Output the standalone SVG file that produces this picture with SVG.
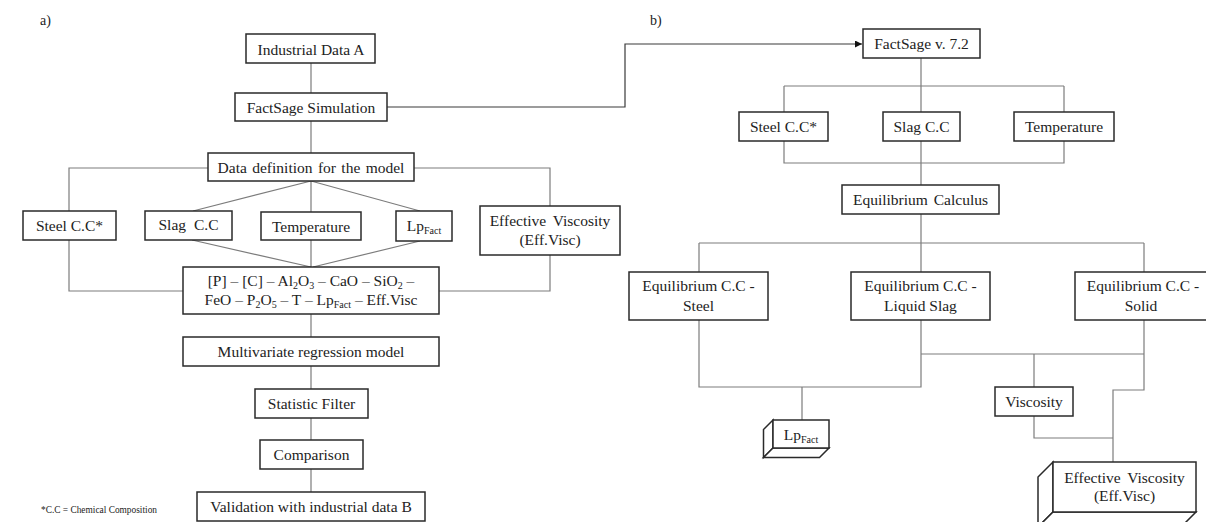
<svg xmlns="http://www.w3.org/2000/svg" width="1206" height="522" viewBox="0 0 1206 522">
<style>
.box{fill:#fff;stroke:#2a2a2a;stroke-width:1.5}
.ln{fill:none;stroke:#7c7c7c;stroke-width:1.2}
.arr{fill:none;stroke:#3a3a3a;stroke-width:1.2}
.t{font-family:"Liberation Serif","Times New Roman",serif;font-size:15.5px;fill:#222;text-anchor:middle}
.lbl{font-family:"Liberation Serif","Times New Roman",serif;font-size:14px;fill:#222}
.sub{font-size:10px}
</style>
<defs>
<marker id="ah" viewBox="0 0 10 10" refX="10" refY="5" markerWidth="8" markerHeight="7" markerUnits="userSpaceOnUse" orient="auto">
<path d="M0,0 L10,5 L0,10 Z" fill="#111"/>
</marker>
</defs>
<rect width="1206" height="522" fill="#fff"/>
<text class="lbl" x="40" y="25">a)</text>
<text class="lbl" x="650" y="25">b)</text>
<text x="41" y="513" font-family="Liberation Serif, serif" font-size="10" fill="#222" textLength="116" lengthAdjust="spacingAndGlyphs">*C.C = Chemical  Composition</text>

<g id="connectors">
<path class="ln" d="M311,63V93M311,121V153M208,168H69V211M69,240V291H183M414,168H550V206M550,255V291H439M311,181L193,211M311,181V212M311,181L420,211M192,240L311,267M311,240V267M420,241L313,267M311,314V337M311,366V389M311,418V440M311,469V492"/>
<path class="arr" d="M387,107H625V44H862" marker-end="url(#ah)"/>
<path class="ln" d="M921,58V112M784,86H1064M784,86V112M1064,86V112M784,141V163H1064V141M921,141V185M921,214V272M699,243H1144M699,243V272M1144,243V272M699,320V387H921V320M921,354H1144M1144,320V390H1113V462M802,387V420M1034,354V387M1034,416V438H1113"/>
</g>

<g id="n-industrial"><rect class="box" x="246" y="34" width="129" height="29"/><text class="t" x="311" y="54.5">Industrial Data A</text></g>
<g id="n-factsage-sim"><rect class="box" x="235" y="93" width="152" height="28"/><text class="t" x="311" y="113">FactSage Simulation</text></g>
<g id="n-datadef"><rect class="box" x="208" y="153" width="206" height="28"/><text class="t" x="311" y="173" word-spacing="1.5">Data definition for the model</text></g>
<g id="n-steel-a"><rect class="box" x="23" y="211" width="93" height="29"/><text class="t" x="69.5" y="231">Steel C.C*</text></g>
<g id="n-slag-a"><rect class="box" x="145" y="211" width="87" height="29"/><text class="t" x="188.5" y="230" word-spacing="4">Slag C.C</text></g>
<g id="n-temp-a"><rect class="box" x="261" y="212" width="100" height="28"/><text class="t" x="311" y="231.5">Temperature</text></g>
<g id="n-lp-a"><rect class="box" x="396" y="211" width="56" height="30"/><text class="t" x="424" y="231">Lp<tspan class="sub" dy="3">Fact</tspan></text></g>
<g id="n-effvisc-a"><rect class="box" x="480" y="206" width="140" height="49"/><text class="t" x="550" y="226" word-spacing="3">Effective Viscosity</text><text class="t" x="550" y="245">(Eff.Visc)</text></g>
<g id="n-formula"><rect class="box" x="183" y="267" width="256" height="47"/>
<text class="t" x="311" y="286">[P] – [C] – Al<tspan class="sub" dy="3">2</tspan><tspan dy="-3">O</tspan><tspan class="sub" dy="3">3</tspan><tspan dy="-3"> – CaO – SiO</tspan><tspan class="sub" dy="3">2</tspan><tspan dy="-3"> –</tspan></text>
<text class="t" x="311" y="305">FeO – P<tspan class="sub" dy="3">2</tspan><tspan dy="-3">O</tspan><tspan class="sub" dy="3">5</tspan><tspan dy="-3"> – T – Lp</tspan><tspan class="sub" dy="3">Fact</tspan><tspan dy="-3"> – Eff.Visc</tspan></text></g>
<g id="n-multireg"><rect class="box" x="183" y="337" width="256" height="29"/><text class="t" x="311" y="357">Multivariate regression model</text></g>
<g id="n-statfilter"><rect class="box" x="255" y="389" width="113" height="29"/><text class="t" x="311.5" y="409">Statistic Filter</text></g>
<g id="n-comparison"><rect class="box" x="260" y="440" width="103" height="29"/><text class="t" x="311.5" y="460">Comparison</text></g>
<g id="n-validation"><rect class="box" x="197" y="492" width="228" height="29"/><text class="t" x="311" y="512">Validation with industrial data B</text></g>

<g id="n-factsage72"><rect class="box" x="863" y="29" width="117" height="29"/><text class="t" x="921.5" y="49">FactSage v. 7.2</text></g>
<g id="n-steel-b"><rect class="box" x="739" y="112" width="89" height="29"/><text class="t" x="783.5" y="132">Steel C.C*</text></g>
<g id="n-slag-b"><rect class="box" x="883" y="112" width="77" height="29"/><text class="t" x="921.5" y="132">Slag C.C</text></g>
<g id="n-temp-b"><rect class="box" x="1014" y="112" width="100" height="29"/><text class="t" x="1064" y="132">Temperature</text></g>
<g id="n-eqcalc"><rect class="box" x="842" y="185" width="157" height="29"/><text class="t" x="920.5" y="205" word-spacing="2">Equilibrium Calculus</text></g>
<g id="n-eq-steel"><rect class="box" x="629" y="272" width="139" height="48"/><text class="t" x="698.5" y="291">Equilibrium C.C -</text><text class="t" x="698.5" y="311">Steel</text></g>
<g id="n-eq-slag"><rect class="box" x="851" y="272" width="139" height="48"/><text class="t" x="920.5" y="291">Equilibrium C.C -</text><text class="t" x="920.5" y="311">Liquid Slag</text></g>
<g id="n-eq-solid"><rect class="box" x="1075" y="272" width="139" height="48"/><text class="t" x="1143" y="291">Equilibrium C.C -</text><text class="t" x="1141" y="311">Solid</text></g>
<g id="n-lp-b">
<polygon class="box" points="773,420 763.5,429.5 763.5,457.5 773,448"/>
<polygon class="box" points="773,448 763.5,457.5 819.5,457.5 829,448"/>
<rect class="box" x="773" y="420" width="56" height="28"/><text class="t" x="801" y="440">Lp<tspan class="sub" dy="3">Fact</tspan></text></g>
<g id="n-viscosity"><rect class="box" x="995" y="387" width="78" height="29"/><text class="t" x="1034" y="407">Viscosity</text></g>
<g id="n-effvisc-b">
<polygon class="box" points="1053,462 1038,477 1038,527 1053,512"/>
<polygon class="box" points="1053,512 1038,527 1181,527 1196,512"/>
<rect class="box" x="1053" y="462" width="143" height="50"/><text class="t" x="1124.5" y="483" word-spacing="3">Effective Viscosity</text><text class="t" x="1124.5" y="501">(Eff.Visc)</text></g>
</svg>
